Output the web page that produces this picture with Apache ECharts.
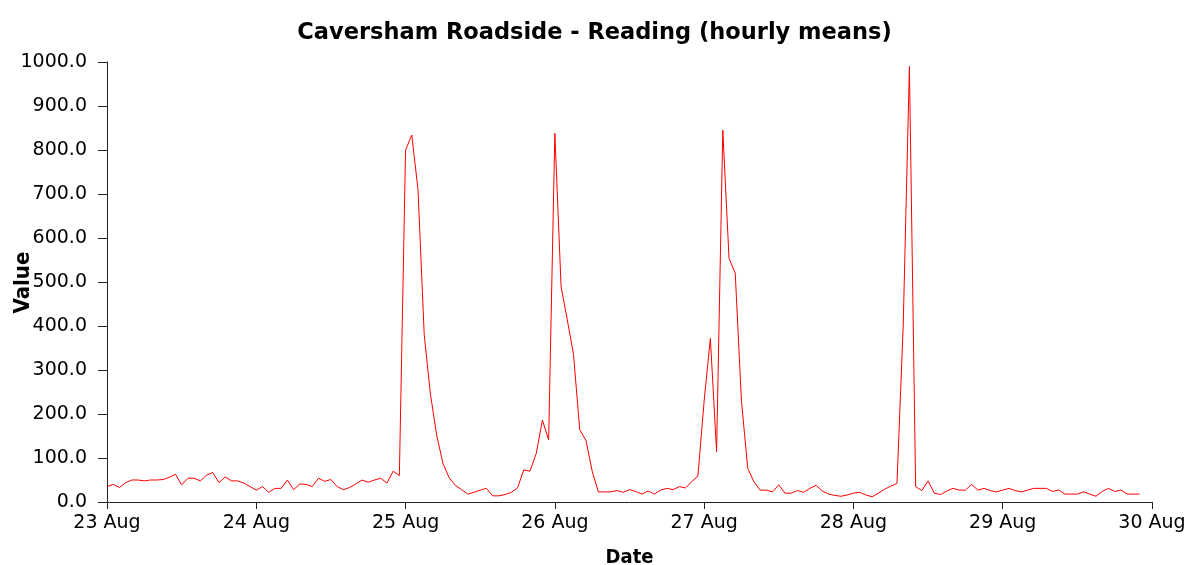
<!DOCTYPE html>
<html>
<head>
<meta charset="utf-8">
<title>Caversham Roadside - Reading</title>
<script src="https://cdn.jsdelivr.net/npm/echarts@6/dist/echarts.min.js"></script>
<style>
  html, body { margin: 0; padding: 0; background: #fff; }
  #chart { width: 1189px; height: 565px; }
</style>
</head>
<body>
<div id="chart"></div>
<script>
// day ticks on the x axis, one every 24 hours
const dayLabels = ['23 Aug', '24 Aug', '25 Aug', '26 Aug', '27 Aug', '28 Aug', '29 Aug', '30 Aug'];

// hourly means, one list per day (00:00 .. 23:00)
const aug23 = [35, 40, 33, 44, 50, 50, 48, 50, 50, 51, 56, 63, 39, 54, 54, 48, 61, 67, 44, 57, 48, 48, 43, 35];
const aug24 = [27, 35, 22, 31, 31, 50, 28, 41, 40, 35, 54, 47, 51, 35, 28, 33, 41, 50, 45, 50, 54, 43, 70, 60];
const aug25 = [800, 834, 710, 380, 245, 152, 88, 55, 38, 28, 18, 22, 27, 31, 14, 14, 17, 22, 32, 73, 70, 110, 186, 141];
const aug26 = [838, 490, 414, 335, 164, 140, 70, 23, 23, 23, 26, 22, 28, 24, 18, 25, 18, 27, 31, 28, 35, 32, 46, 59];
const aug27 = [230, 372, 114, 845, 554, 520, 230, 77, 46, 27, 27, 23, 39, 20, 20, 26, 22, 31, 38, 25, 18, 15, 13, 16];
const aug28 = [20, 22, 16, 12, 20, 29, 36, 42, 400, 990, 35, 26, 48, 20, 17, 25, 31, 27, 27, 40, 27, 31, 26, 23];
const aug29 = [27, 31, 26, 23, 27, 31, 31, 31, 24, 27, 18, 18, 18, 23, 18, 13, 24, 31, 24, 27, 18, 18, 18];

const hourly = [].concat(aug23, aug24, aug25, aug26, aug27, aug28, aug29);
const seriesData = hourly.map((v, h) => [h, v]);

const chart = echarts.init(document.getElementById('chart'));

const axisColor = '#222';
const tickFont = { color: '#000', fontFamily: 'DejaVu Sans', fontSize: 19 };
const nameFont = { fontFamily: 'DejaVu Sans Condensed', fontWeight: 'bold', color: '#000' };

chart.setOption({
    animation: false,
    backgroundColor: '#fff',
    title: {
        text: 'Caversham Roadside - Reading (hourly means)',
        left: 'center',
        top: 17,
        textStyle: {
            fontFamily: 'DejaVu Sans',
            fontWeight: 'bold',
            fontSize: 22.5,
            color: '#000'
        }
    },
    // y axis name sits over the tick labels in the original, so place it by hand
    graphic: [
        {
            type: 'text',
            left: 12,
            top: 'middle',
            rotation: Math.PI / 2,
            z: 100,
            style: Object.assign({ text: 'Value', fontSize: 22 }, nameFont, { fill: '#000' })
        }
    ],
    grid: {
        left: 107,
        right: 37,
        top: 62,
        bottom: 63,
        containLabel: false,
        outerBoundsMode: 'none'
    },
    xAxis: {
        type: 'value',
        min: 0,
        max: 168,
        interval: 24,
        name: 'Date',
        nameLocation: 'middle',
        nameGap: 46,
        nameTextStyle: Object.assign({ fontSize: 20 }, nameFont),
        axisLine: { lineStyle: { color: axisColor, width: 1 } },
        axisTick: { show: true, length: 7, lineStyle: { color: axisColor } },
        axisLabel: Object.assign({
            margin: 12,
            formatter: v => dayLabels[Math.round(v / 24)]
        }, tickFont),
        splitLine: { show: false }
    },
    yAxis: {
        type: 'value',
        min: 0,
        max: 1000,
        interval: 100,
        axisLine: { show: true, lineStyle: { color: axisColor, width: 1 } },
        axisTick: { show: true, length: 9, lineStyle: { color: axisColor } },
        axisLabel: Object.assign({
            margin: 20,
            formatter: v => v.toFixed(1)
        }, tickFont),
        splitLine: { show: false }
    },
    series: [
        {
            name: 'hourly means',
            type: 'line',
            data: seriesData,
            showSymbol: false,
            symbol: 'none',
            lineStyle: { color: '#ff0000', width: 1 },
            itemStyle: { color: '#ff0000' }
        }
    ]
});
</script>
</body>
</html>
